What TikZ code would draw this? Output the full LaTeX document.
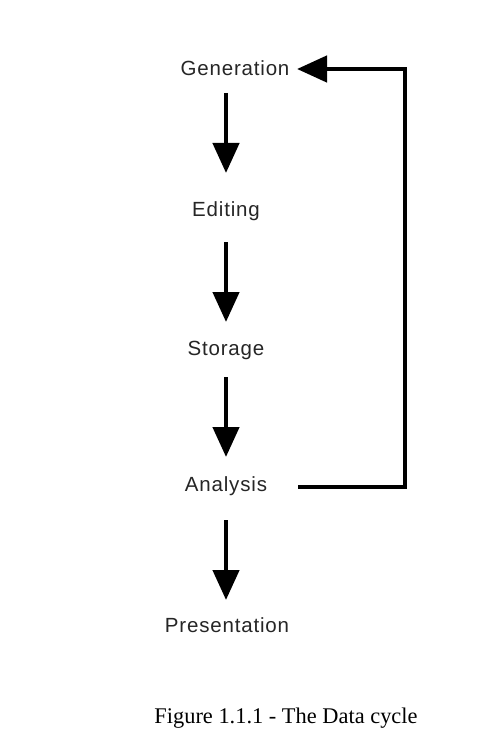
\documentclass[tikz,border=0pt]{standalone}
\usepackage{fontspec}
\setmainfont{Liberation Serif}
\newfontfamily\labelfont[LetterSpace=4]{Liberation Sans}
\usetikzlibrary{arrows.meta}
\begin{document}
\begin{tikzpicture}[x=1pt,y=-1pt,
  lbl/.style={font=\labelfont\fontsize{20.5}{24}\selectfont, inner sep=0pt, text=black!85},
  flow/.style={line width=4.5pt, -{Triangle[length=30pt,width=26pt]}}]
\useasboundingbox[fill=white] (0,0) rectangle (493,754);
\node[lbl] (gen) at (235,68) {Generation};
\node[lbl] (edit) at (226,211) {Editing};
\node[lbl] (stor) at (226,350) {Storage};
\node[lbl] (anal) at (226,486) {Analysis};
\node[lbl] (pres) at (227,625) {Presentation};
\node[font=\fontsize{22.4}{26}\selectfont, inner sep=0pt] (cap) at (286,718) {Figure 1.1.1 - The Data cycle};
\coordinate (g1) at (226,93);
\coordinate (g2) at (226,173);
\coordinate (e1) at (226,242);
\coordinate (e2) at (226,322);
\coordinate (s1) at (226,377);
\coordinate (s2) at (226,457);
\coordinate (a1) at (226,520);
\coordinate (a2) at (226,600);
\draw[flow] (g1) -- (g2);
\draw[flow] (e1) -- (e2);
\draw[flow] (s1) -- (s2);
\draw[flow] (a1) -- (a2);
\coordinate (fb0) at (298,487);
\coordinate (fb1) at (405,487);
\coordinate (fb2) at (405,69);
\coordinate (fb3) at (297,69);
\draw[flow, line join=miter] (fb0) -- (fb1) -- (fb2) -- (fb3);
\end{tikzpicture}
\end{document}
